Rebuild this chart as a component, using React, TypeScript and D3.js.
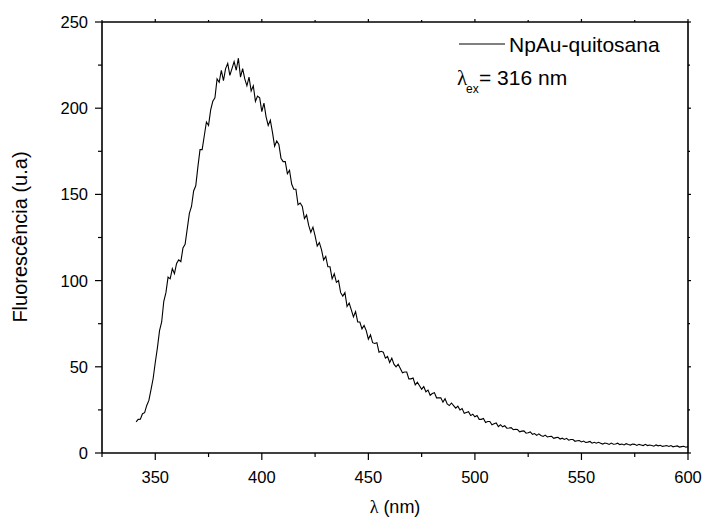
import React from "react";
import * as d3 from "d3";

const startWavelength = 341; // nm, step 1 nm
const fluorescence = [
  18, 19.5, 19.6, 22.8, 23.4, 27.6, 30.5, 36.8, 43.2, 52.5,
  61, 71, 76, 88, 93, 102, 101, 107, 104, 110, 112, 111, 119, 121, 130,
  139, 143, 152, 155, 166, 176, 176, 184, 192, 190, 199, 204, 206, 217, 215,
  222, 216, 223, 226, 219, 223, 227, 222, 229, 218, 223, 217, 213, 218, 210,
  213, 204, 207, 206, 198, 203, 195, 190, 193, 186, 178, 181, 179, 171, 169,
  169, 162, 164, 156, 153, 153, 144, 145, 143, 136, 138, 132, 128, 131, 126,
  120, 122, 118, 112, 114, 108, 108, 101, 104, 99, 100, 93, 91, 93, 85,
  87, 83, 79, 82, 76, 76, 72, 74, 71, 66,
  68.5, 64, 63.5, 64, 58.5, 59, 58.5, 55, 56, 52.5, 55, 51.5, 50, 51.5, 49,
  46.5, 47, 47, 43, 43, 43.5, 39.5, 41, 39, 37, 38.5, 35.5, 36.5, 33.5, 34.5,
  35, 32, 32, 32, 29.5, 31.5, 28.5, 27.5, 29, 27.5, 26, 27.2, 25, 25.8, 23,
  23.5, 24, 21.7, 22.5, 21,
  21.8, 19.5, 19.5, 20, 17.7, 18.3, 18.3, 16.4, 17, 17.4, 15.3, 16.4, 15.2, 15.8, 14.4,
  14.5, 14.7, 13.5, 13.8, 13.6, 12.3, 12.7, 12.8, 11.5, 11.7, 12.2, 10.8, 11.3, 10.2, 11.1,
  10.2, 9.6, 10.4, 9.3, 9.6, 9.7, 8.5, 8.9, 9.1, 8.1, 8.6, 7.9, 8.5, 7.4, 7.8,
  7.8, 6.8, 7.1, 7.2, 6.4,
  6.9, 6.1, 6.3, 6.7, 5.7, 6.2, 5.7, 6.2, 5.7, 5.2, 5.8, 5.55, 5.0, 5.75, 5.1,
  5.25, 5.7, 4.85, 5.2, 4.7, 5.4, 4.95, 4.6, 5.15, 5.0, 4.35, 5.0, 4.65, 4.3, 5.0,
  4.3, 4.65, 4.4, 3.95, 4.7, 4.15, 4.5, 3.85, 4.1, 4.3, 3.8, 4.35, 3.6, 3.95, 4.1,
  3.45, 3.7, 3.9, 3.35, 3.7,
];

const xDomain = [325, 600];
const yDomain = [0, 250];
const xMajorTicks = [350, 400, 450, 500, 550, 600];
const xMinorTicks = [325, 375, 425, 475, 525, 575];
const yMajorTicks = [0, 50, 100, 150, 200, 250];
const yMinorTicks = [25, 75, 125, 175, 225];
const seriesName = "NpAu-quitosana";
const excitationText = "= 316 nm";
const xTitle = "(nm)";
const yTitle = "Fluorescência (u.a)";

const L = 102, R = 688, T = 22, B = 453;
const SANS = "'Liberation Sans', Arial, sans-serif";
const SERIF = "'Liberation Serif', 'Times New Roman', serif";

export default function App() {
  const x = d3.scaleLinear().domain(xDomain).range([L, R]);
  const y = d3.scaleLinear().domain(yDomain).range([B, T]);
  const line = d3
    .line<number>()
    .x((_, i) => x(startWavelength + i))
    .y((d) => y(d));
  const ax = { stroke: "#000", strokeWidth: 1.6 };
  const tk = { stroke: "#000", strokeWidth: 1.2 };
  return (
    <svg
      width={705}
      height={520}
      style={{ position: "absolute", left: 0, top: 0, background: "#fff" }}
    >
      <rect x={0} y={0} width={705} height={520} fill="#fff" />
      <path d={line(fluorescence) || ""} fill="none" stroke="#000" strokeWidth={1.1} />
      {/* frame */}
      <line x1={L} x2={R} y1={B} y2={B} {...ax} />
      <line x1={L} x2={R} y1={T} y2={T} {...ax} />
      <line x1={L} x2={L} y1={T} y2={B} {...ax} />
      <line x1={R} x2={R} y1={T} y2={B} {...ax} />
      {/* x ticks */}
      {xMajorTicks.map((v) => (
        <g key={"xM" + v}>
          <line x1={x(v)} x2={x(v)} y1={B} y2={B + 7} {...tk} />
          <line x1={x(v)} x2={x(v)} y1={T} y2={T - 3} {...tk} />
          <text
            x={x(v)}
            y={B + 30}
            textAnchor="middle"
            fontFamily={SANS}
            fontSize={16.5}
          >
            {v}
          </text>
        </g>
      ))}
      {xMinorTicks.map((v) => (
        <g key={"xm" + v}>
          <line x1={x(v)} x2={x(v)} y1={B} y2={B + 4} {...tk} />
          <line x1={x(v)} x2={x(v)} y1={T} y2={T - 2} {...tk} />
        </g>
      ))}
      {/* y ticks */}
      {yMajorTicks.map((v) => (
        <g key={"yM" + v}>
          <line x1={L} x2={L - 7} y1={y(v)} y2={y(v)} {...tk} />
          <line x1={R} x2={R + 3} y1={y(v)} y2={y(v)} {...tk} />
          <text
            x={L - 14}
            y={y(v) + 6}
            textAnchor="end"
            fontFamily={SANS}
            fontSize={16.5}
          >
            {v}
          </text>
        </g>
      ))}
      {yMinorTicks.map((v) => (
        <g key={"ym" + v}>
          <line x1={L} x2={L - 4} y1={y(v)} y2={y(v)} {...tk} />
          <line x1={R} x2={R + 2} y1={y(v)} y2={y(v)} {...tk} />
        </g>
      ))}
      {/* axis titles */}
      <text x={395} y={513} textAnchor="middle" fontFamily={SANS} fontSize={18}>
        <tspan fontFamily={SERIF}>λ</tspan> {xTitle}
      </text>
      <text
        transform="translate(27,237) rotate(-90)"
        textAnchor="middle"
        fontFamily={SANS}
        fontSize={20}
      >
        {yTitle}
      </text>
      {/* legend */}
      <line x1={459} x2={505} y1={44} y2={44} stroke="#000" strokeWidth={1} />
      <text x={509} y={52} fontFamily={SANS} fontSize={21}>
        {seriesName}
      </text>
      <text x={457} y={85} fontFamily={SERIF} fontSize={21}>
        λ
      </text>
      <text x={466} y={93} fontFamily={SANS} fontSize={12}>
        ex
      </text>
      <text x={479} y={85} fontFamily={SANS} fontSize={21}>
        {excitationText}
      </text>
    </svg>
  );
}
